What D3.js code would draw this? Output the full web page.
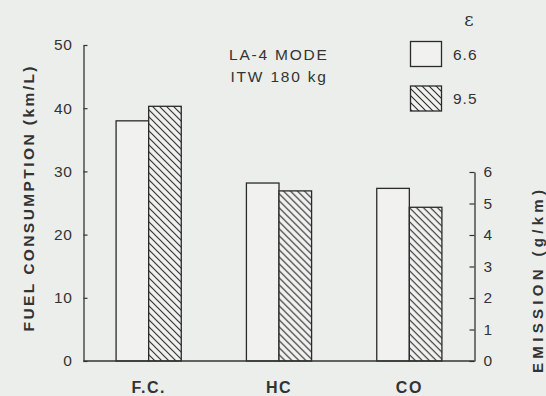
<!DOCTYPE html>
<html>
<head>
<meta charset="utf-8">
<script src="https://cdn.jsdelivr.net/npm/d3@7"></script>
<style>
  html, body { margin: 0; padding: 0; background: #eceeec; }
  svg { display: block; }
  text { font-family: "Liberation Sans", Arial, Helvetica, sans-serif; fill: #333; }
</style>
</head>
<body>
<script>
// Compression ratio comparison (LA-4 mode, ITW 180 kg)
const categories = ["F.C.", "HC", "CO"];
const categoryAxis = ["left", "right", "right"];   // F.C. in km/L, HC and CO in g/km
const series = ["6.6", "9.5"];                      // compression ratio ε
const values66 = [38.0, 5.65, 5.48];
const values95 = [40.3, 5.40, 4.88];
const leftTicks = [0, 10, 20, 30, 40, 50];
const rightTicks = [0, 1, 2, 3, 4, 5, 6];
const annotation = ["LA-4 MODE", "ITW  180 kg"];

const W = 546, H = 396;
const svg = d3.select("body").append("svg").attr("width", W).attr("height", H);

svg.append("rect").attr("width", W).attr("height", H).attr("fill", "#eceeec");

// diagonal hatch for the ε = 9.5 bars
const defs = svg.append("defs");
const pat = defs.append("pattern")
  .attr("id", "hatch").attr("patternUnits", "userSpaceOnUse")
  .attr("width", 7).attr("height", 7);
pat.append("rect").attr("width", 7).attr("height", 7).attr("fill", "#f1f2f0");
pat.append("path")
  .attr("d", "M-1,-1L8,8M-1,6L1,8M6,-1L8,1")
  .attr("stroke", "#2e2e2e").attr("stroke-width", 1.15);

const plotLeft = 83.5, plotRight = 474.5, baseY = 361;

const yLeft = d3.scaleLinear().domain([0, 50]).range([baseY, 45]);
const yRight = d3.scaleLinear().domain([0, 6]).range([baseY, 172]);

const x0 = d3.scaleBand().domain(categories).range([plotLeft, plotRight])
  .paddingInner(0.5).paddingOuter(0.25);
const x1 = d3.scaleBand().domain(series).range([0, x0.bandwidth()]);

const fills = { "6.6": "#f1f2f0", "9.5": "url(#hatch)" };

const rows = categories.map((c, i) => ({
  cat: c, axis: categoryAxis[i],
  vals: [{ s: "6.6", v: values66[i] }, { s: "9.5", v: values95[i] }]
}));

// bars
const groups = svg.append("g").selectAll("g").data(rows).join("g")
  .attr("transform", d => `translate(${x0(d.cat)},0)`);
groups.selectAll("rect")
  .data(d => d.vals.map(e => ({ ...e, axis: d.axis })))
  .join("rect")
  .attr("x", d => x1(d.s))
  .attr("width", x1.bandwidth())
  .attr("y", d => (d.axis === "left" ? yLeft : yRight)(d.v))
  .attr("height", d => baseY - (d.axis === "left" ? yLeft : yRight)(d.v))
  .attr("fill", d => fills[d.s])
  .attr("stroke", "#2a2a2a").attr("stroke-width", 1.3);

// axes
const axisStyle = g => {
  g.selectAll("path.domain").attr("stroke", "#333").attr("stroke-width", 1.3);
  g.selectAll(".tick line").attr("stroke", "#333").attr("stroke-width", 1.2);
  g.selectAll(".tick text").style("font-size", "15.5px").attr("fill", "#3a3a3a")
    .style("letter-spacing", "0.6px")
    .style("font-family", "'Liberation Sans', Arial, sans-serif");
};

svg.append("g").attr("transform", `translate(${plotLeft},0)`)
  .call(d3.axisLeft(yLeft).tickValues(leftTicks).tickFormat(d3.format("d"))
    .tickSizeInner(-4).tickSizeOuter(0).tickPadding(11))
  .call(axisStyle);

svg.append("g").attr("transform", `translate(${plotRight},0)`)
  .call(d3.axisRight(yRight).tickValues(rightTicks).tickFormat(d3.format("d"))
    .tickSizeInner(-5).tickSizeOuter(0).tickPadding(9))
  .call(axisStyle);

// baseline
svg.append("line")
  .attr("x1", plotLeft).attr("x2", plotRight)
  .attr("y1", baseY).attr("y2", baseY)
  .attr("stroke", "#333").attr("stroke-width", 1.3);

// category labels
svg.append("g").selectAll("text").data(categories).join("text")
  .attr("x", d => x0(d) + x0.bandwidth() / 2)
  .attr("y", 393)
  .attr("text-anchor", "middle")
  .style("font-size", "16px").style("font-weight", "bold").style("letter-spacing", "1.5px")
  .text(d => d);

// axis titles
svg.append("text")
  .attr("transform", "translate(28.5,199) rotate(-90)")
  .attr("text-anchor", "middle").attr("dominant-baseline", "central")
  .attr("textLength", 265).attr("lengthAdjust", "spacing")
  .style("font-size", "15.5px").style("font-weight", "bold")
  .text("FUEL CONSUMPTION (km/L)");

svg.append("text")
  .attr("transform", "translate(537.5,281.5) rotate(-90)")
  .attr("text-anchor", "middle").attr("dominant-baseline", "central")
  .attr("textLength", 183).attr("lengthAdjust", "spacing")
  .style("font-size", "15px").style("font-weight", "bold")
  .text("EMISSION (g/km)");

// test condition note
svg.append("g").selectAll("text").data(annotation).join("text")
  .attr("x", (d, i) => i === 0 ? 229 : 230.5)
  .attr("y", (d, i) => i === 0 ? 60 : 81.5)
  .style("font-size", "15.5px").style("letter-spacing", "1.8px")
  .text(d => d);

// legend
const legend = svg.append("g");
legend.append("text").attr("x", 469).attr("y", 26).attr("text-anchor", "middle")
  .style("font-family", "'DejaVu Serif', serif").style("font-size", "18px")
  .attr("fill", "#444")
  .text("ε");
const legY = d3.scalePoint().domain(series).range([54, 98.5]);
legend.selectAll("rect").data(series).join("rect")
  .attr("x", 410.5).attr("y", d => legY(d) - 12.5)
  .attr("width", 31).attr("height", 25)
  .attr("fill", d => fills[d])
  .attr("stroke", "#2a2a2a").attr("stroke-width", 1.3);
legend.selectAll("text.lab").data(series).join("text").attr("class", "lab")
  .attr("x", 453).attr("y", d => legY(d) + 5.5)
  .style("font-size", "15.5px").style("letter-spacing", "1px")
  .text(d => d);
</script>
</body>
</html>
